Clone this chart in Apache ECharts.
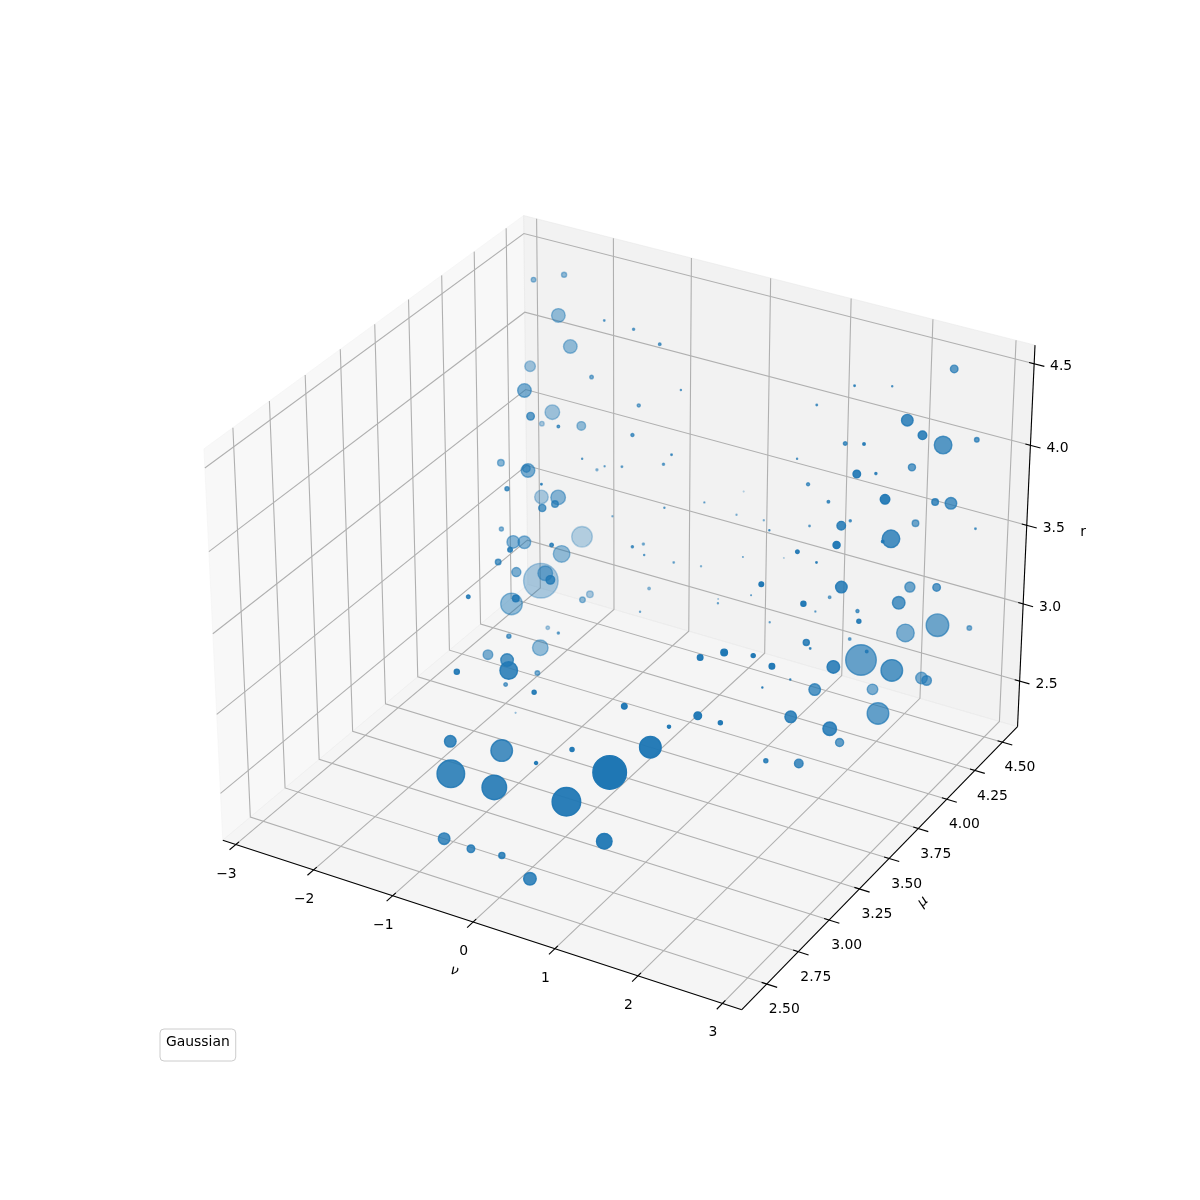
<!DOCTYPE html>
<html><head><meta charset="utf-8"><style>html,body{margin:0;padding:0;background:#fff}#c{width:1200px;height:1200px}</style>
<script src="https://cdn.jsdelivr.net/npm/echarts@6/dist/echarts.min.js"></script></head><body><div id="c"></div>
<script>
const nu=[-2.37,-2.14,-2.07,-1.21,-1.87,-2.41,-1.18,-1.77,-2.06,-1.23,-2.33,-0.95,-1.54,-2.00,-1.52,-1.54,-0.64,-1.47,-0.81,-0.64,
-0.81,-0.39,0.09,-0.65,-0.24,0.18,-0.26,1.54,-0.17,0.04,0.25,-0.54,-1.05,-2.13,-1.37,-0.77,-0.88,-1.00,-1.82,-1.67,
-1.56,-0.29,-0.45,-1.83,-1.38,-1.14,-1.35,-1.28,-1.90,-0.21,-0.70,-1.72,-0.27,-1.39,-1.05,-1.70,-0.79,-0.85,-1.32,-1.39,
-0.59,-0.15,-0.41,-0.88,-0.95,0.34,1.37,-0.98,1.82,-0.49,-0.20,1.02,0.67,1.71,-0.37,1.53,0.16,1.03,-0.47,-0.14,
0.24,1.48,0.58,0.19,0.46,1.66,2.33,0.06,-0.62,0.19,-0.28,-0.01,1.11,0.40,2.28,1.66,-0.64,0.06,0.63,-0.08,
1.17,1.92,2.23,2.39,2.58,2.42,2.37,2.05,2.52,2.27,2.78,2.42,2.97,2.31,2.32,2.78,2.91,2.51,2.41,2.54,
2.62,1.88,2.23,1.39,2.72,3.01,2.84,3.05,1.94,2.47,2.44,2.66,2.48,1.52,1.94,3.05,3.05,3.05,1.29,2.48,
2.01,2.45,3.05,2.79,2.90,2.84,2.17,2.64,2.57,3.05,1.67,2.70,2.85,1.57,2.32,3.05,2.93,2.48,3.05,1.97,
2.47,2.16,2.86,2.76,3.05];
const mu=[4.23,4.33,4.24,4.07,4.21,4.22,3.95,3.79,4.18,3.51,4.26,3.55,4.09,3.74,3.66,3.66,3.54,4.17,3.82,3.85,
4.05,3.99,3.85,3.99,3.68,3.72,3.94,3.83,4.55,4.08,3.62,3.17,3.22,4.13,3.80,3.41,3.38,4.00,3.63,3.63,
3.65,3.09,2.88,4.27,3.83,3.20,3.46,3.64,3.98,3.03,2.72,3.64,2.81,4.06,3.79,3.91,3.44,3.10,3.62,3.26,
2.93,2.68,2.46,3.33,3.13,2.57,2.60,3.22,2.65,2.45,2.65,2.43,2.38,2.58,2.38,2.39,2.38,2.38,2.38,2.38,
2.38,2.38,2.38,4.25,4.30,3.53,3.30,3.49,4.01,3.50,4.04,4.09,3.69,4.52,3.05,3.39,4.07,4.19,3.81,3.64,
3.88,2.82,2.80,2.92,2.94,3.20,3.01,2.72,3.14,2.75,3.30,3.79,3.66,3.48,3.97,3.69,3.19,3.56,3.02,3.20,
4.38,4.06,4.13,4.09,3.91,3.83,4.14,4.28,3.95,3.73,4.17,3.54,3.83,3.94,3.82,3.50,3.93,4.07,4.12,3.55,
3.96,4.21,4.30,3.75,3.60,3.26,3.57,3.45,4.09,3.97,4.04,3.10,3.79,3.99,3.82,3.31,4.08,4.13,4.28,4.01,
3.29,3.54,3.52,4.08,3.91];
const r=[4.55,4.55,4.36,4.54,4.21,4.01,4.27,4.21,3.79,4.30,3.63,4.25,3.83,3.76,3.83,3.84,4.10,3.51,3.85,3.85,
4.55,4.55,4.42,4.14,4.21,4.12,3.86,4.21,3.30,3.57,3.87,4.20,4.07,3.27,3.59,3.89,3.87,3.39,3.44,3.38,
3.38,3.92,4.01,2.96,3.21,3.62,3.35,3.23,2.86,3.76,3.80,2.97,3.79,2.79,2.99,2.63,3.06,3.27,2.76,2.96,
3.28,3.46,3.57,2.87,2.93,3.48,3.53,2.68,3.44,3.14,2.98,3.34,3.24,3.35,3.01,3.31,3.01,3.06,2.59,2.58,
2.60,2.89,2.51,3.40,3.37,3.99,4.11,3.69,3.26,3.65,3.17,3.15,3.64,2.97,4.08,3.69,2.93,2.88,3.20,3.16,
3.11,3.75,3.84,3.76,3.71,3.42,3.50,3.49,3.25,3.46,3.48,3.12,3.23,3.14,2.79,2.91,3.20,2.78,3.05,2.92,
4.55,4.55,4.55,4.35,4.55,4.55,4.27,4.24,4.28,4.49,4.06,4.46,4.25,3.98,4.01,4.39,4.09,3.99,3.57,4.12,
3.81,3.69,3.68,3.95,4.05,4.25,3.84,3.84,3.39,3.54,3.23,3.99,3.54,3.16,3.39,3.79,3.21,3.06,3.07,3.03,
3.59,3.33,3.43,2.85,3.00];
const weight=[11.0,13.5,95.9,1.3,95.9,58.2,6.7,95.9,110.5,29.9,11.0,3.5,38.3,22.6,95.9,29.9,0.6,2.3,0.6,1.3,
2.3,3.5,0.6,5.0,5.0,1.3,2.3,0.6,0.2,0.6,0.6,1.3,8.7,95.9,110.5,22.6,26.1,0.6,8.7,82.3,
82.3,6.7,11.0,220.0,142.9,16.3,42.9,110.5,620.6,38.3,6.7,241.9,22.6,22.6,16.3,6.7,2.3,8.7,126.2,47.8,
82.3,160.6,13.5,11.0,6.7,8.7,16.3,0.2,5.0,69.8,241.9,8.7,5.0,241.9,394.9,585.3,313.7,424.0,69.8,29.9,
19.3,126.2,82.3,0.6,0.6,0.6,6.7,2.3,2.3,0.6,1.3,0.6,0.2,0.2,11.0,0.2,3.5,0.2,0.6,0.6,
0.6,16.3,22.6,8.7,16.3,0.6,0.6,29.9,69.8,8.7,82.3,485.4,241.9,69.8,58.2,241.9,95.9,34.0,8.7,38.3,
29.9,1.3,0.6,1.3,69.8,38.3,160.6,11.0,6.7,3.5,26.1,29.9,2.3,5.0,3.5,47.8,22.6,69.8,1.3,38.3,
2.3,22.6,1.3,160.6,3.5,26.1,1.3,69.8,52.9,29.9,3.5,13.5,82.3,0.6,5.0,8.7,264.8,160.6,11.0,3.5,
19.3,1.3,3.5,69.8,47.8];
const nuLim=[-3.17,3.226],muLim=[2.305,4.639],rLim=[2.2,4.613];
const nuTicks=[-3,-2,-1,0,1,2,3],muTicks=[2.5,2.75,3,3.25,3.5,3.75,4,4.25,4.5],rTicks=[2.5,3,3.5,4,4.5];
const nuLabels=['\u22123','\u22122','\u22121','0','1','2','3'],muLabels=['2.50','2.75','3.00','3.25','3.50','3.75','4.00','4.25','4.50'],rLabels=['2.5','3.0','3.5','4.0','4.5'];
const k=1.8294640721620434*25/24/Math.sqrt(41),A=[4*k,4*k,3*k];
const c30=Math.cos(Math.PI/6),s30=.5,c60=.5,s60=Math.sin(Math.PI/3);
const W=[c30*c60,-c30*s60,s30],U=[s60,c60,0],V=[-s30*c60,s30*s60,c30];
const dot=(a,b)=>a[0]*b[0]+a[1]*b[1]+a[2]*b[2];
function rel(n,m,z){return[((n-nuLim[0])/(nuLim[1]-nuLim[0])-.5)*A[0],((m-muLim[0])/(muLim[1]-muLim[0])-.5)*A[1],((z-rLim[0])/(rLim[1]-rLim[0])-.5)*A[2]];}
function proj(n,m,z){const p=rel(n,m,z),d=10-dot(p,W);return[dot(p,U)/d,dot(p,V)/d,d];}
const S=924/.185;
const depth=nu.map((n,i)=>proj(n,mu[i],r[i])[2]),dn=Math.min(...depth),dx=Math.max(...depth);
const order=nu.map((_,i)=>i).sort((a,b)=>depth[b]-depth[a]);
const blue='31,119,180';
const scatterData=order.map(i=>{const q=proj(nu[i],mu[i],r[i]),al=(1-.7*(depth[i]-dn)/(dx-dn)).toFixed(3);return{value:[q[0],q[1]],symbolSize:Math.sqrt(weight[i])/.72,itemStyle:{opacity:1,color:`rgba(${blue},${al})`,borderColor:`rgba(${blue},${al})`,borderWidth:1.39}};});
const [n0,n1]=nuLim,[m0,m1]=muLim,[z0,z1]=rLim;
const panes=[{p:[[n0,m0,z0],[n0,m1,z0],[n0,m1,z1],[n0,m0,z1]],c:'rgba(242,242,242,.5)'},{p:[[n0,m1,z0],[n1,m1,z0],[n1,m1,z1],[n0,m1,z1]],c:'rgba(230,230,230,.5)'},{p:[[n0,m0,z0],[n1,m0,z0],[n1,m1,z0],[n0,m1,z0]],c:'rgba(236,236,236,.5)'}];
const grids=[...nuTicks.map(t=>[[t,m0,z0],[t,m1,z0],[t,m1,z1]]),...muTicks.map(t=>[[n1,t,z0],[n0,t,z0],[n0,t,z1]]),...rTicks.map(t=>[[n1,m1,t],[n0,m1,t],[n0,m0,t]])];
const nr=n1-n0,mr=m1-m0;
const edges=[[[n0,m0,z0],[n1,m0,z0]],[[n1,m0,z0],[n1,m1,z0]],[[n1,m1,z0],[n1,m1,z1]]];
const tickSegs=[...nuTicks.map(t=>[[t,m0+.0095*mr,z0],[t,m0-.019*mr,z0]]),...muTicks.map(t=>[[n1-.0095*nr,t,z0],[n1+.019*nr,t,z0]]),...rTicks.map(t=>[[n1-.0095*nr,m1,t],[n1+.019*nr,m1,t]])];
const texts=[...nuTicks.map((t,i)=>({p:[t,m0,z0],t:nuLabels[i],o:[-9.5,29.5]})),...muTicks.map((t,i)=>({p:[n1,t,z0],t:muLabels[i],o:[17.5,25.5]})),...rTicks.map((t,i)=>({p:[n1,m1,t],t:rLabels[i],o:[27,3]}))];
const sc=(api,P)=>{const q=proj(P[0],P[1],P[2]);return api.coord([q[0],q[1]]);};
const chromeSeries=(name,arr,z,fn)=>({type:'custom',name,silent:true,z,clip:false,coordinateSystem:'cartesian2d',data:arr.map((_,i)=>[i]),renderItem:(par,api)=>fn(arr[api.value(0)],api),animation:false});
const axisNames=[{t:'\u03bd',q:[454.3,971],rot:-18*Math.PI/180},{t:'\u03bc',q:[922.7,901.7],rot:45*Math.PI/180},{t:'r',q:[1083,532.3],rot:0}];
const chart=echarts.init(document.getElementById('c'),null,{renderer:'canvas'});
chart.setOption({animation:false,backgroundColor:'#fff',
 grid:{left:153,top:144,width:924,height:924,containLabel:false},
 xAxis:{type:'value',min:-.095,max:.09,show:false},yAxis:{type:'value',min:-.095,max:.09,show:false},
 legend:{show:true,left:160,top:1029,data:[{name:'Gaussian',icon:'none'}],selectedMode:false,itemWidth:0,itemHeight:0,itemGap:0,backgroundColor:'#fff',borderColor:'#ccc',borderWidth:1,borderRadius:4,padding:[6,6,12,1],textStyle:{fontFamily:'DejaVu Sans',fontSize:13.9,color:'#000',padding:0}},
 series:[
  chromeSeries('panes',panes,1,(o,api)=>({type:'polygon',shape:{points:o.p.map(P=>sc(api,P))},style:{fill:o.c,stroke:o.c,lineWidth:1}})),
  chromeSeries('grid',grids,2,(o,api)=>({type:'polyline',shape:{points:o.map(P=>sc(api,P))},style:{fill:null,stroke:'#b0b0b0',lineWidth:1.1}})),
  chromeSeries('edges',[...edges,...tickSegs],3,(o,api)=>({type:'polyline',shape:{points:o.map(P=>sc(api,P))},style:{fill:null,stroke:'#000',lineWidth:1.1}})),
  {type:'scatter',name:'Gaussian',z:4,symbol:'circle',itemStyle:{opacity:1},data:scatterData,silent:true,clip:false,animation:false,emphasis:{disabled:true}},
  chromeSeries('ticklabels',texts,5,(o,api)=>{const c=sc(api,o.p);return{type:'text',x:c[0]+o.o[0],y:c[1]+o.o[1],style:{text:o.t,fill:'#000',font:'13.9px "DejaVu Sans"',textAlign:'center',textVerticalAlign:'middle'}};}),
  chromeSeries('axislabels',axisNames,6,(o,api)=>{const c=api.coord([(o.q[0]-153)/S-.095,(1068-o.q[1])/S-.095]);return{type:'text',x:c[0],y:c[1],rotation:o.rot,style:{text:o.t,fill:'#000',font:(o.t==='r'?'':'italic ')+'13.9px "DejaVu Sans"',textAlign:'center',textVerticalAlign:'middle'}};})
 ]});
</script></body></html>
